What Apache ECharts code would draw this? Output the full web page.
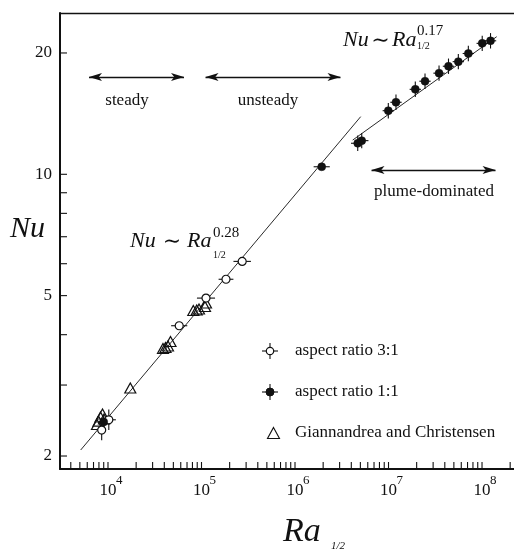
<!DOCTYPE html>
<html><head><meta charset="utf-8">
<script src="https://cdn.jsdelivr.net/npm/echarts@6/dist/echarts.min.js"></script>
<style>html,body{margin:0;padding:0;background:#fff}#c{width:514px;height:549px}</style>
</head><body><div id="c"></div>
<script>
// ---------- data ----------
// aspect ratio 3:1 (open circles)
const ar3Ra    = [8561, 10200, 57750, 111700, 182800, 272400];
const ar3Nu    = [2.32, 2.46, 4.21, 4.93, 5.49, 6.08];
const ar3RaErr = [0.10, 0.19, 0.22, 0.25, 0.20, 0.24];
const ar3NuErr = [0.06, 0.06, 0.02, 0.02, 0.02, 0.02];
// aspect ratio 1:1 (filled circles)
const ar1Ra    = [9000, 1.93e6, 4.685e6, 5.17e6, 9.95e6, 1.202e7, 1.934e7, 2.457e7, 3.47e7, 4.38e7, 5.58e7, 7.14e7, 1.005e8, 1.233e8];
const ar1Nu    = [2.43, 10.44, 11.94, 12.12, 14.38, 15.09, 16.25, 17.02, 17.82, 18.54, 19.03, 19.94, 21.13, 21.44];
const ar1RaErr = [0.10, 0.22, 0.18, 0.18, 0.15, 0.15, 0.15, 0.15, 0.15, 0.15, 0.15, 0.15, 0.15, 0.15];
const ar1NuErr = [0.04, 0.015, 0.045, 0.045, 0.045, 0.045, 0.045, 0.045, 0.045, 0.045, 0.045, 0.045, 0.045, 0.045];
// Giannandrea and Christensen (open triangles)
const gcRa = [7627, 7914, 8315, 8735, 9063, 17320, 38730, 41210, 43820, 46600, 81730, 88870, 94040, 109000, 111700];
const gcNu = [2.394, 2.442, 2.499, 2.542, 2.471, 2.949, 3.697, 3.718, 3.75, 3.847, 4.592, 4.606, 4.633, 4.699, 4.793];
// power-law fits
const fit028Ra = [5105, 5.04e6];
const fit028Nu = [2.07, 13.9];
const fit017Ra = [4.14e6, 1.436e8];
const fit017Nu = [12.16, 21.95];
// regime arrows
const regimeNames   = ['steady', 'unsteady', 'plume-dominated'];
const regimeRaStart = [6264, 1.104e5, 6.58e6];
const regimeRaEnd   = [6.5e4, 3.066e6, 1.395e8];
const regimeNu      = [17.43, 17.43, 10.25];
// axes
const X_MIN = 3067, X_MAX = 2.198e8;
const Y_MIN = 1.857, Y_MAX = 25.13;
const xTickMantissas = [1,2,3,4,5,6,7,8,9];
const xTickDecades = [1e3, 1e4, 1e5, 1e6, 1e7, 1e8];
const xLabelExps = [4, 5, 6, 7, 8];
const yTickVals = [2, 3, 4, 5, 6, 7, 8, 9, 10, 20];
const yLabelVals = [2, 5, 10, 20];

const xTickVals = [];
xTickDecades.forEach(d => xTickMantissas.forEach(m => { const v = m * d; if (v > X_MIN && v < X_MAX) xTickVals.push(v); }));

const SERIF = '"Liberation Serif", "Times New Roman", serif';
const INK = '#111';

function zip(a, b, c, d) { return a.map((v, i) => c ? [v, b[i], c[i], d[i]] : [v, b[i]]); }

function errRender(params, api) {
  const x = api.value(0), y = api.value(1), ex = api.value(2), ey = api.value(3);
  const l = api.coord([x / (1 + ex), y]), r = api.coord([x * (1 + ex), y]);
  const b = api.coord([x, y / (1 + ey)]), t = api.coord([x, y * (1 + ey)]);
  return { type: 'group', children: [
    { type: 'line', shape: { x1: l[0], y1: l[1], x2: r[0], y2: r[1] }, style: { stroke: INK, lineWidth: 1.1 } },
    { type: 'line', shape: { x1: b[0], y1: b[1], x2: t[0], y2: t[1] }, style: { stroke: INK, lineWidth: 1.1 } }
  ]};
}

function txt(x, y, text, size, opts) {
  opts = opts || {};
  return { type: 'text', x: x, y: y, z: 10, style: {
    text: text, fontSize: size, fontFamily: opts.family || SERIF, fontStyle: opts.italic ? 'italic' : 'normal',
    fill: INK, align: opts.align || 'left', textAlign: opts.align || 'left',
    verticalAlign: 'middle', textVerticalAlign: 'middle' } };
}

const chart = echarts.init(document.getElementById('c'), null, { renderer: 'canvas' });

const TILDE_FONT = '"DejaVu Serif", serif';
const graphics = [
  // axis titles
  txt(10, 229, 'Nu', 30, { italic: true }),
  txt(283, 532, 'Ra', 34, { italic: true }),
  txt(331, 546, '1/2', 11, { italic: true }),
  // power-law annotations
  txt(343, 40, 'Nu', 22, { italic: true }),
  txt(380.5, 41, '∼', 22, { align: 'center', family: TILDE_FONT }),
  txt(392, 40, 'Ra', 22, { italic: true }),
  txt(417, 31, '0.17', 15),
  txt(417, 46, '1/2', 10),
  txt(130, 241, 'Nu', 22, { italic: true }),
  txt(172, 242, '∼', 22, { align: 'center', family: TILDE_FONT }),
  txt(187, 241, 'Ra', 22, { italic: true }),
  txt(213, 233, '0.28', 15),
  txt(213, 255, '1/2', 10),
  // regime labels
  txt(127, 101, regimeNames[0], 17, { align: 'center' }),
  txt(268, 101, regimeNames[1], 17, { align: 'center' }),
  txt(434, 192, regimeNames[2], 17, { align: 'center' }),
  // legend
  { type: 'line', z: 10, shape: { x1: 262, y1: 351, x2: 278, y2: 351 }, style: { stroke: INK, lineWidth: 1.1 } },
  { type: 'line', z: 10, shape: { x1: 270, y1: 343, x2: 270, y2: 359 }, style: { stroke: INK, lineWidth: 1.1 } },
  { type: 'circle', z: 11, shape: { cx: 270, cy: 351, r: 3.7 }, style: { fill: '#fff', stroke: INK, lineWidth: 1.2 } },
  txt(295, 351, 'aspect ratio 3:1', 17),
  { type: 'line', z: 10, shape: { x1: 262, y1: 392, x2: 278, y2: 392 }, style: { stroke: INK, lineWidth: 1.1 } },
  { type: 'line', z: 10, shape: { x1: 270, y1: 384, x2: 270, y2: 400 }, style: { stroke: INK, lineWidth: 1.1 } },
  { type: 'circle', z: 11, shape: { cx: 270, cy: 392, r: 4 }, style: { fill: INK, stroke: INK, lineWidth: 1 } },
  txt(295, 392, 'aspect ratio 1:1', 17),
  { type: 'polygon', z: 10, shape: { points: [[273.5, 427.5], [279.5, 438.5], [267.5, 438.5]] }, style: { fill: 'none', stroke: INK, lineWidth: 1.1 } },
  txt(295, 433, 'Giannandrea and Christensen', 17)
];

const arrowLines = regimeNames.map((n, i) => [
  { coord: [regimeRaStart[i], regimeNu[i]] },
  { coord: [regimeRaEnd[i], regimeNu[i]] }
]);

const hiddenAxisParts = { axisTick: { show: false }, axisLabel: { show: false }, splitLine: { show: false }, minorTick: { show: false } };

chart.setOption({
  animation: false,
  backgroundColor: '#fff',
  grid: { left: 60, top: 13, right: 0, height: 456, show: false },
  xAxis: [
    Object.assign({ type: 'log', logBase: 10, min: X_MIN, max: X_MAX, position: 'bottom',
      axisLine: { show: true, onZero: false, lineStyle: { color: INK, width: 2 } } }, hiddenAxisParts),
    Object.assign({ type: 'log', logBase: 10, min: X_MIN, max: X_MAX, position: 'top',
      axisLine: { show: true, onZero: false, lineStyle: { color: INK, width: 1.4 } } }, hiddenAxisParts)
  ],
  yAxis: Object.assign({ type: 'log', logBase: 10, min: Y_MIN, max: Y_MAX,
    axisLine: { show: true, onZero: false, lineStyle: { color: INK, width: 2 } } }, hiddenAxisParts),
  graphic: graphics,
  series: [
    { type: 'line', name: 'fit 0.28', data: zip(fit028Ra, fit028Nu), showSymbol: false, symbol: 'none', z: 1,
      lineStyle: { color: '#2a2a2a', width: 1 }, silent: true,
      markLine: { silent: true, symbol: ['arrow', 'arrow'], symbolSize: [6, 13], animation: false,
        label: { show: false }, lineStyle: { color: INK, width: 1.3, type: 'solid' }, data: arrowLines } },
    { type: 'line', name: 'fit 0.17', data: zip(fit017Ra, fit017Nu), showSymbol: false, symbol: 'none', z: 1,
      lineStyle: { color: '#2a2a2a', width: 1 }, silent: true },
    { type: 'custom', name: 'err3', renderItem: errRender, data: zip(ar3Ra, ar3Nu, ar3RaErr, ar3NuErr), z: 2, silent: true },
    { type: 'custom', name: 'err1', renderItem: errRender, data: zip(ar1Ra, ar1Nu, ar1RaErr, ar1NuErr), z: 2, silent: true },
    { type: 'scatter', name: 'Giannandrea and Christensen', data: zip(gcRa, gcNu), symbol: 'triangle', symbolSize: [11, 10], z: 3,
      itemStyle: { color: 'rgba(255,255,255,0)', borderColor: INK, borderWidth: 1.2, opacity: 1 } },
    { type: 'scatter', name: 'aspect ratio 3:1', data: zip(ar3Ra, ar3Nu), symbol: 'circle', symbolSize: 8, z: 4,
      itemStyle: { color: '#fff', borderColor: INK, borderWidth: 1.2, opacity: 1 } },
    { type: 'scatter', name: 'aspect ratio 1:1', data: zip(ar1Ra, ar1Nu), symbol: 'circle', symbolSize: 8, z: 5,
      itemStyle: { color: INK, borderColor: INK, borderWidth: 0.5, opacity: 1 } },
    // tick marks (inside)
    { type: 'custom', name: 'xticks', silent: true, z: 6, data: xTickVals.map(v => [v, Y_MIN]),
      renderItem: (p, api) => { const c = api.coord([api.value(0), api.value(1)]);
        return { type: 'line', shape: { x1: c[0], y1: c[1], x2: c[0], y2: c[1] - 7 }, style: { stroke: INK, lineWidth: 1.1 } }; } },
    { type: 'custom', name: 'yticks', silent: true, z: 6, data: yTickVals.map(v => [X_MIN, v]),
      renderItem: (p, api) => { const c = api.coord([api.value(0), api.value(1)]);
        return { type: 'line', shape: { x1: c[0], y1: c[1], x2: c[0] + 7, y2: c[1] }, style: { stroke: INK, lineWidth: 1.1 } }; } },
    // tick labels
    { type: 'custom', name: 'xlabels', silent: true, z: 6, data: xLabelExps.map(e => [Math.pow(10, e), Y_MIN, e]),
      renderItem: (p, api) => { const c = api.coord([api.value(0), api.value(1)]);
        return { type: 'group', children: [
          { type: 'text', x: c[0], y: c[1] + 22, style: { text: '10', fontSize: 17, fontFamily: SERIF, fill: INK,
            align: 'center', textAlign: 'center', verticalAlign: 'middle', textVerticalAlign: 'middle' } },
          { type: 'text', x: c[0] + 8, y: c[1] + 12, style: { text: String(api.value(2)), fontSize: 13, fontFamily: SERIF, fill: INK,
            align: 'left', textAlign: 'left', verticalAlign: 'middle', textVerticalAlign: 'middle' } }
        ]}; } },
    { type: 'custom', name: 'ylabels', silent: true, z: 6, data: yLabelVals.map(v => [X_MIN, v]),
      renderItem: (p, api) => { const c = api.coord([api.value(0), api.value(1)]);
        return { type: 'text', x: c[0] - 8, y: c[1], style: { text: String(api.value(1)), fontSize: 17, fontFamily: SERIF, fill: INK,
          align: 'right', textAlign: 'right', verticalAlign: 'middle', textVerticalAlign: 'middle' } }; } }
  ]
});
</script>
</body></html>
